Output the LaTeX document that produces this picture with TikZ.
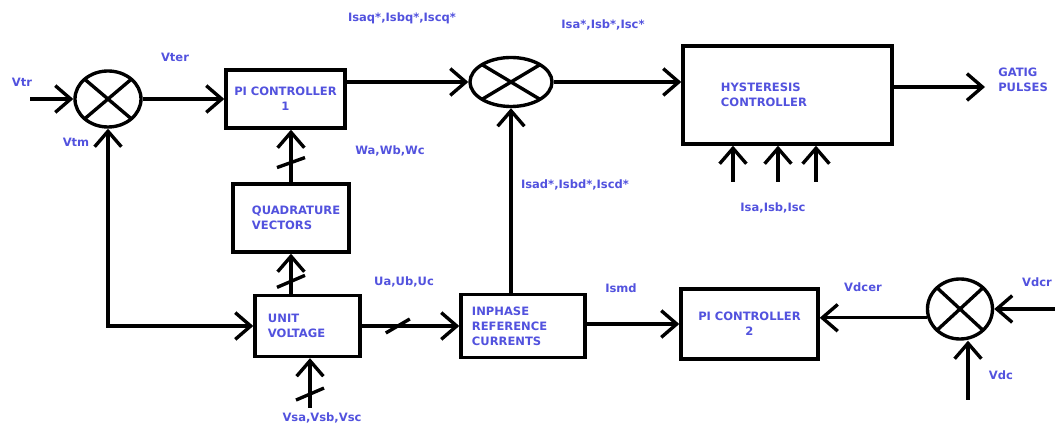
\documentclass[tikz,border=0pt]{standalone}
\usepackage{fontspec}
\setmainfont{DejaVu Sans}
\usepackage{tikz}
\definecolor{labelblue}{RGB}{82, 82, 222}
\usetikzlibrary{shapes,arrows.meta}
\newcommand{\diagfont}{\fontsize{8.2}{10.8}\selectfont\bfseries}
\tikzstyle{block} = [rectangle, draw, line width=2.4pt, fill=white, text=labelblue,
    font=\diagfont, inner ysep=0pt, align=left]
\tikzstyle{sum} = [ellipse, draw, line width=2.4pt, inner sep=0pt,
    path picture={\draw [line width=2.4pt] (path picture bounding box.north west) -- (path picture bounding box.south east)
        (path picture bounding box.north east) -- (path picture bounding box.south west);}]
\tikzstyle{signal} = [text=labelblue, font=\diagfont, inner sep=0pt]
\tikzstyle{line} = [draw, line width=2.4pt, -{Straight Barb[length=11pt,width=19pt]}]
\tikzstyle{line both} = [line, {Straight Barb[length=11pt,width=19pt]}-{Straight Barb[length=11pt,width=19pt]}]
\tikzstyle{bus} = [draw, line width=2.4pt]

\begin{document}
\begin{tikzpicture}[x=0.025cm, y=-0.025cm]
  \useasboundingbox (0,0) rectangle (1055,425);
  % summing points
  \node [sum, minimum width=1.65cm, minimum height=1.4cm] (sum_vt) at (108,99) {};
  \node [sum, minimum width=2.05cm, minimum height=1.225cm] (sum_is) at (511,82) {};
  \node [sum, minimum width=1.625cm, minimum height=1.5cm] (sum_vdc) at (960,309) {};
  % blocks
  \node [block, align=center, inner xsep=0pt, text width=2.975cm, minimum height=1.45cm] (pi_one) at (285.5,99) {PI CONTROLLER\\1};
  \node [block, inner xsep=0.475cm, text width=1.95cm, minimum height=1.7cm] (quad_vec) at (291,218) {QUADRATURE\\VECTORS};
  \node [block, inner xsep=0.325cm, text width=1.975cm, minimum height=1.525cm] (unit_volt) at (307.5,326) {UNIT\\VOLTAGE};
  \node [block, inner xsep=0.275cm, text width=2.55cm, minimum height=1.575cm] (inphase_ref) at (523,326) {INPHASE\\REFERENCE\\CURRENTS};
  \node [block, inner xsep=0.95cm, text width=3.325cm, minimum height=2.45cm] (hyst_ctrl) at (787.5,95) {HYSTERESIS\\CONTROLLER};
  \node [block, align=center, inner xsep=0pt, text width=3.425cm, minimum height=1.75cm] (pi_two) at (749.5,324) {PI CONTROLLER\\2};
  % free ends
  \coordinate (vtr_in) at (30,99);
  \coordinate (gate_out) at (985,87);
  \coordinate (isa_in) at (733,182);
  \coordinate (isb_in) at (778,182);
  \coordinate (isc_in) at (816,182);
  \coordinate (vs_in) at (310,408);
  \coordinate (vdcr_in) at (1055,309);
  \coordinate (vdc_in) at (968,400);
  % signal names
  \node [signal] (lbl_vtr) at (22,82) {Vtr};
  \node [signal] (lbl_vtm) at (76,142) {Vtm};
  \node [signal] (lbl_vter) at (175,57) {Vter};
  \node [signal] (lbl_isq) at (402,18) {Isaq*,Isbq*,Iscq*};
  \node [signal] (lbl_isref) at (603,25) {Isa*,Isb*,Isc*};
  \node [signal] (lbl_w) at (390,151) {Wa,Wb,Wc};
  \node [signal] (lbl_isd) at (575,185) {Isad*,Isbd*,Iscd*};
  \node [signal, align=left, anchor=west] (lbl_gate) at (998,80) {GATIG\\PULSES};
  \node [signal] (lbl_is) at (773,208) {Isa,Isb,Isc};
  \node [signal] (lbl_u) at (404,282) {Ua,Ub,Uc};
  \node [signal] (lbl_ismd) at (621,288) {Ismd};
  \node [signal] (lbl_vs) at (322,418) {Vsa,Vsb,Vsc};
  \node [signal] (lbl_vdcer) at (863,287) {Vdcer};
  \node [signal] (lbl_vdcr) at (1037,282) {Vdcr};
  \node [signal] (lbl_vdc) at (1001,375) {Vdc};
  % connectors
  \path [line] (vtr_in) -- (sum_vt);
  \path [line] (sum_vt) -- (pi_one);
  \path [line both] (sum_vt) |- (unit_volt);
  \path [line] (pi_one.east |- sum_is) -- (sum_is);
  \path [line] (sum_is) -- (sum_is -| hyst_ctrl.west);
  \path [line] (hyst_ctrl.east |- gate_out) -- (gate_out);
  \path [line] (isa_in) -- (isa_in |- hyst_ctrl.south);
  \path [line] (isb_in) -- (isb_in |- hyst_ctrl.south);
  \path [line] (isc_in) -- (isc_in |- hyst_ctrl.south);
  \path [line] (quad_vec) -- coordinate[pos=0.375] (bus_w) (quad_vec |- pi_one.south);
  \path [line] (quad_vec |- unit_volt.north) -- coordinate[pos=0.31] (bus_u_up) (quad_vec);
  \path [line] (vs_in) -- coordinate[pos=0.28] (bus_vs) (vs_in |- unit_volt.south);
  \path [line] (unit_volt) -- coordinate[pos=0.37] (bus_u) (inphase_ref);
  \path [line] (inphase_ref.north -| sum_is) -- (sum_is);
  \path [line] (inphase_ref.east |- pi_two) -- (pi_two);
  \path [line] (sum_vdc.195) -- (sum_vdc.195 -| pi_two.east);
  \path [line] (vdcr_in) -- (sum_vdc);
  \path [line] (vdc_in) -- (vdc_in |- sum_vdc.south);
  % three-phase marks
  \draw [bus] ([shift={(-14,5)}]bus_w) -- ([shift={(14,-5)}]bus_w);
  \draw [bus] ([shift={(-14,6)}]bus_u_up) -- ([shift={(14,-6)}]bus_u_up);
  \draw [bus] ([shift={(-14,6)}]bus_vs) -- ([shift={(14,-6)}]bus_vs);
  \draw [bus] ([shift={(-12,7)}]bus_u) -- ([shift={(12,-7)}]bus_u);
\end{tikzpicture}
\end{document}
